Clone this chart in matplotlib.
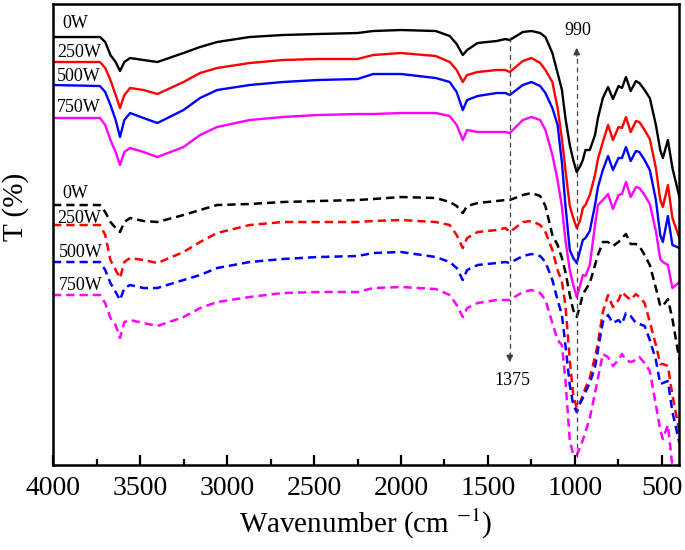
import matplotlib
matplotlib.use("Agg")
import matplotlib.pyplot as plt
from matplotlib.ticker import MultipleLocator

plt.rcParams['font.family'] = ['Liberation Serif', 'DejaVu Serif']
plt.rcParams['mathtext.fontset'] = 'stix'

# wavenumber grid (cm-1), shared by all spectra
wn = [4000, 3730, 3700, 3670, 3640, 3615, 3590, 3557, 3480, 3400,
      3250, 3155, 3057, 2870, 2680, 2480, 2250, 2160, 2000, 1800,
      1720, 1680, 1645, 1620, 1560, 1450, 1400, 1375, 1300, 1250,
      1200, 1170, 1130, 1100, 1075, 1055, 1030, 1010, 990, 970,
      955, 940, 915, 885, 868, 840, 810, 782, 750, 730,
      707, 680, 650, 630, 600, 570, 535, 510, 495, 466,
      440, 400]

# offset transmittance, arbitrary units (solid curves)
t_0w = [428, 428, 423, 410, 403, 394, 403, 407, 405, 403,
        412, 418, 423, 428, 430, 431, 432, 434, 435, 434,
        429, 421, 410, 415, 422, 424, 426, 425, 433, 434,
        432, 428, 412, 392, 375, 347, 320, 305, 293, 299,
        305, 315, 315, 330, 347, 367, 378, 366, 379, 377,
        388, 374, 384, 382, 375, 367, 340, 315, 307, 325,
        297, 268]
t_250w = [403, 403, 397, 385, 370, 357, 370, 377, 375, 371,
          383, 392, 397, 402, 405, 406, 406, 410, 412, 409,
          403, 395, 383, 390, 393, 395, 395, 393, 404, 407,
          402, 395, 383, 357, 326, 295, 259, 247, 237, 245,
          257, 260, 270, 290, 306, 323, 340, 325, 338, 337,
          348, 333, 344, 343, 335, 326, 297, 265, 258, 280,
          247, 227]
t_500w = [380, 379, 373, 360, 345, 328, 345, 352, 347, 342,
          355, 367, 375, 380, 383, 385, 386, 391, 391, 387,
          383, 373, 355, 365, 369, 372, 372, 370, 380, 383,
          379, 372, 357, 340, 302, 260, 215, 207, 202, 215,
          225, 227, 234, 260, 278, 295, 309, 295, 307, 307,
          318, 304, 314, 313, 305, 295, 265, 230, 223, 249,
          220, 217]
t_750w = [347, 347, 340, 325, 313, 300, 313, 317, 313, 308,
          318, 330, 338, 345, 348, 350, 351, 351, 352, 352,
          349, 340, 325, 335, 333, 333, 333, 332, 345, 348,
          345, 335, 310, 285, 258, 225, 195, 180, 168, 180,
          190, 189, 200, 240, 260, 265, 271, 256, 270, 271,
          283, 268, 278, 277, 270, 261, 234, 206, 203, 200,
          177, 183]

# dashed curves
d_0w = [260, 260, 253, 243, 237, 233, 243, 247, 244, 243,
        250, 255, 260, 261, 263, 264, 265, 266, 268, 267,
        263, 259, 252, 259, 262, 264, 265, 265, 270, 272,
        269, 259, 230, 220, 207, 193, 170, 155, 148, 160,
        171, 175, 182, 200, 210, 223, 223, 219, 223, 227,
        231, 221, 221, 219, 210, 200, 177, 159, 159, 166,
        146, 105]
d_250w = [240, 240, 230, 205, 195, 187, 203, 207, 205, 202,
          213, 223, 232, 240, 243, 243, 243, 244, 245, 243,
          240, 230, 217, 227, 233, 235, 237, 233, 243, 244,
          240, 233, 215, 195, 183, 160, 105, 70, 57, 63,
          70, 77, 87, 108, 122, 153, 170, 158, 165, 173,
          169, 165, 171, 168, 162, 143, 120, 101, 101, 99,
          70, 33]
d_500w = [203, 203, 195, 182, 173, 165, 177, 180, 177, 177,
          185, 190, 197, 203, 206, 208, 209, 212, 213, 208,
          203, 197, 185, 195, 200, 202, 203, 202, 209, 211,
          209, 203, 185, 165, 150, 120, 80, 60, 53, 62,
          67, 73, 82, 98, 115, 143, 150, 142, 145, 141,
          152, 149, 142, 141, 139, 125, 105, 81, 82, 84,
          53, 22]
d_750w = [170, 170, 162, 147, 140, 127, 143, 145, 142, 139,
          148, 157, 163, 168, 172, 173, 173, 177, 178, 176,
          170, 160, 148, 157, 162, 165, 165, 165, 173, 175,
          172, 165, 142, 125, 120, 85, 25, 10, 10, 18,
          25, 33, 47, 72, 87, 111, 108, 99, 105, 111,
          105, 103, 105, 108, 102, 94, 60, 35, 26, 40,
          -2, -15]

labels = ['0W', '250W', '500W', '750W']
colors = ['black', 'red', 'blue', 'magenta']
solid = [t_0w, t_250w, t_500w, t_750w]
dashed = [d_0w, d_250w, d_500w, d_750w]
# label anchors (wavenumber, T)
solid_lab = [(3948, 442), (3977, 413), (3977, 389), (3977, 358)]
dashed_lab = [(3948, 272), (3977, 247), (3966, 213), (3966, 180)]

fig = plt.figure(figsize=(6.85, 5.5), dpi=100)
ax = fig.add_axes([0.0774, 0.1545, 0.9139, 0.8382])

for y, c in zip(solid, colors):
    ax.plot(wn, y, color=c, lw=1.7)
for y, c in zip(dashed, colors):
    ax.plot(wn, y, color=c, lw=1.8, ls=(0, (3.3, 2)))

for lab, (x, y) in zip(labels, solid_lab):
    ax.text(x, y, lab, fontsize=13, ha='left', va='center')
for lab, (x, y) in zip(labels, dashed_lab):
    ax.text(x, y, lab, fontsize=13, ha='left', va='center')

# marker arrows
ax.plot([1375, 1375], [428, 108], ls=(0, (4, 3)), lw=0.9, color='0.25')
ax.annotate('', xy=(1375, 100), xytext=(1375, 114),
            arrowprops=dict(arrowstyle='-|>', color='0.25', lw=0.9, mutation_scale=10))
ax.text(1360, 85, '1375', fontsize=13, ha='center', va='center')
ax.plot([990, 990], [8, 412], ls=(0, (4, 3)), lw=0.9, color='0.25')
ax.annotate('', xy=(990, 420), xytext=(990, 406),
            arrowprops=dict(arrowstyle='-|>', color='0.25', lw=0.9, mutation_scale=10))
ax.text(985, 435, '990', fontsize=13, ha='center', va='center')

ax.set_xlim(4000, 402)
ax.set_ylim(0, 461)
ax.xaxis.set_major_locator(MultipleLocator(500))
ax.xaxis.set_minor_locator(MultipleLocator(250))
ax.set_yticks([])
ax.tick_params(axis='x', which='major', direction='in', length=7, width=1.6,
               labelsize=20, pad=8, top=False)
ax.tick_params(axis='x', which='minor', direction='in', length=4, width=1.6, top=False)
for s in ax.spines.values():
    s.set_linewidth(1.8)

ax.set_xlabel('Wavenumber (cm $^{-1}$)', fontsize=21, labelpad=4)
ax.set_ylabel('T (%)', fontsize=21)
ax.yaxis.set_label_coords(-0.038, 0.56)

fig.savefig('out.png', dpi=100)
